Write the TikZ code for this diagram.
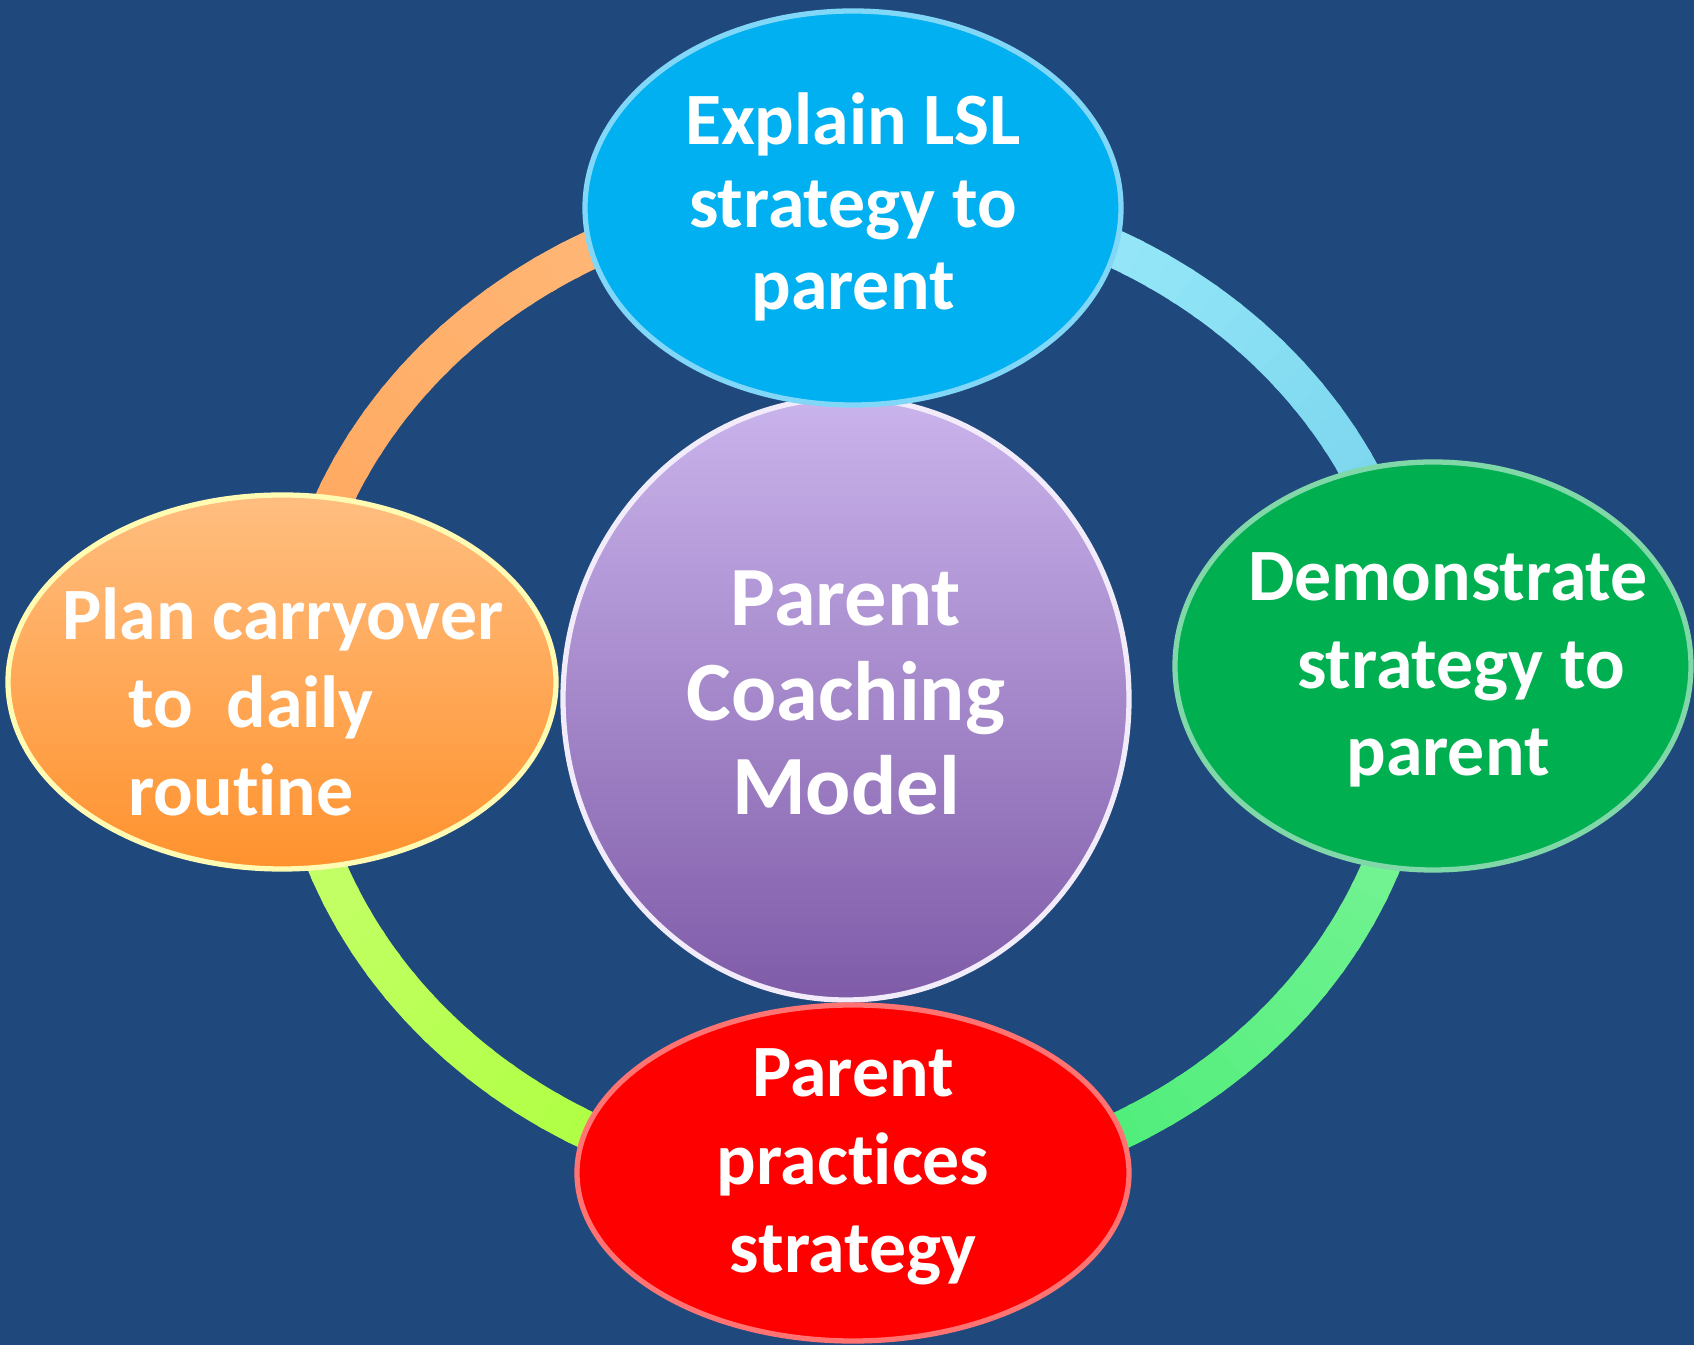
\documentclass[tikz,border=0pt]{standalone}
\usepackage{fontspec}
\setmainfont{Carlito}[Ligatures=NoCommon]
\usepackage{tikz}
\usetikzlibrary{positioning,shapes.geometric}
\definecolor{bgblue}{RGB}{31,73,125}
\definecolor{lslblue}{RGB}{0,176,240}
\definecolor{demogreen}{RGB}{0,176,80}
\definecolor{practred}{RGB}{255,0,0}
\definecolor{plantop}{RGB}{255,190,128}
\definecolor{planbot}{RGB}{255,146,46}
\definecolor{modeltop}{RGB}{202,180,236}
\definecolor{modelbot}{RGB}{127,91,168}
\definecolor{ringcyanA}{RGB}{108,205,232}
\definecolor{ringcyanB}{RGB}{166,240,255}
\definecolor{ringorA}{RGB}{255,189,128}
\definecolor{ringorB}{RGB}{255,165,90}
\definecolor{ringylA}{RGB}{204,255,119}
\definecolor{ringylB}{RGB}{164,255,46}
\definecolor{ringgrA}{RGB}{61,235,110}
\definecolor{ringgrB}{RGB}{128,245,155}

\begin{document}
\begin{tikzpicture}[
    bubble/.style={ellipse,inner sep=0pt,line width=1.5pt},
    txt/.style={text=white,align=center,font=\bfseries\fontsize{21}{25}\selectfont},
    ringseg/.style={line width=0.38cm}]
  \fill[bgblue] (0,0) rectangle (16.94,13.45);
  \useasboundingbox (0,0) rectangle (16.94,13.45);
  \coordinate (R) at (8.54,6.54);
  \foreach \a/\ca/\cb in {0/ringcyanA/ringcyanB,90/ringorA/ringorB,180/ringylA/ringylB,270/ringgrA/ringgrB}
    \foreach \s in {0,3,...,87} {
      \pgfmathtruncatemacro\p{100-\s*100/87}
      \draw[ringseg,color={\ca!\p!\cb}] ([shift={(\a+\s:5.63 and 4.99)}]R)
        arc[start angle=\a+\s,delta angle=3.6,x radius=5.63,y radius=4.99];
    }
  \node[bubble,top color=modeltop,bottom color=modelbot,draw=white!75!modeltop,
    minimum width=5.66cm,minimum height=6.02cm] (model) at (8.46,6.46) {};
  \node[bubble,fill=lslblue,draw=lslblue!50!white,
    minimum width=5.36cm,minimum height=3.94cm] (explain) at (8.53,11.37) {};
  \node[bubble,fill=demogreen,draw=demogreen!50!white,
    minimum width=5.16cm,minimum height=4.08cm] (demo) at (14.33,6.79) {};
  \node[bubble,top color=plantop,bottom color=planbot,draw=yellow!30!white,
    minimum width=5.48cm,minimum height=3.74cm] (plan) at (2.82,6.63) {};
  \node[bubble,fill=practred,draw=practred!55!white,
    minimum width=5.52cm,minimum height=3.36cm] (practice) at (8.53,1.72) {};
  \node[txt,font=\bfseries\fontsize{24}{27}\selectfont] (model-t) at (8.46,6.52) {Parent\\Coaching\\Model};
  \node[txt,font=\bfseries\fontsize{21}{23.5}\selectfont] (explain-t) at (8.53,11.38) {Explain LSL\\strategy to\\parent};
  \node[txt] (demo-t) at (14.48,6.75) {Demonstrate\\\hspace*{0.26cm}strategy to\\parent};
  \node[txt,align=left] (plan-t) at (2.83,6.43) {Plan carryover\\\hspace*{0.66cm}to\ \ daily\\\hspace*{0.66cm}routine};
  \node[txt] (practice-t) at (8.53,1.78) {Parent\\practices\\strategy};
\end{tikzpicture}
\end{document}
